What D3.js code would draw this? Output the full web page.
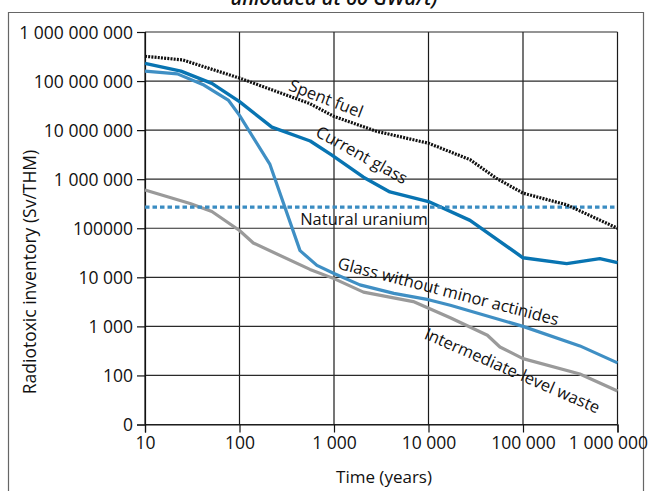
<!DOCTYPE html>
<html><head><meta charset="utf-8">
<script src="https://cdn.jsdelivr.net/npm/d3@7"></script>
<style>body{margin:0;background:#fff}svg{display:block}</style>
</head><body>
<script>
// ---- data ----
const spentT = [10, 25, 100, 550, 1000, 2800, 10000, 27500, 52000, 100000, 290000, 1000000];
const spentV = [3.2e8, 2.7e8, 1.15e8, 3.5e7, 1.9e7, 9.5e6, 5.4e6, 2.5e6, 1.05e6, 5.2e5, 3e5, 1.0e5];

const glassT = [10, 24, 51, 100, 220, 560, 950, 2050, 3900, 10000, 27500, 100000, 290000, 650000, 1000000];
const glassV = [2.3e8, 1.6e8, 9e7, 3.8e7, 1.15e7, 6e6, 3.1e6, 1.1e6, 5.5e5, 3.5e5, 1.45e5, 2.5e4, 1.9e4, 2.4e4, 2.0e4];

const noMAT = [10, 22, 42, 76, 100, 210, 437, 660, 1000, 1880, 4300, 10000, 17000, 100000, 400000, 1000000];
const noMAV = [1.6e8, 1.4e8, 8.3e7, 4.1e7, 2e7, 2e6, 3.5e4, 1.75e4, 1.2e4, 7e3, 4.7e3, 3.5e3, 2.7e3, 1e3, 4e2, 1.8e2];

const ilwT = [10, 30, 51, 100, 140, 557, 1000, 2050, 6900, 17000, 42000, 57000, 100000, 400000, 1000000];
const ilwV = [6e5, 3.2e5, 2.2e5, 9e4, 5e4, 1.45e4, 9.4e3, 5e3, 3.2e3, 1.5e3, 6.6e2, 3.8e2, 2.2e2, 1.07e2, 4.8e1];

const uraniumT = [10, 1000000];
const uraniumV = [2.7e5, 2.7e5];

const xTicks = [10, 100, 1000, 10000, 100000, 1000000];
const xTickLabels = ["10", "100", "1 000", "10 000", "100 000", "1 000 000"];
const yTicks = [10, 100, 1000, 1e4, 1e5, 1e6, 1e7, 1e8, 1e9];
const yTickLabels = ["0", "100", "1 000", "10 000", "100000", "1 000 000", "10 000 000", "100 000 000", "1 000 000 000"];

const title = "unloaded at 60 GWd/t)";
const xTitle = "Time (years)";
const yTitle = "Radiotoxic inventory (Sv/THM)";

// ---- layout ----
const W = 649, H = 491;
const L = 145, R = 617.5, T = 32, B = 424.5;
const font = "'Open Sans', sans-serif";

const svg = d3.select("body").append("svg").attr("width", W).attr("height", H);

// outer frame
svg.append("path").attr("d", `M8.5,${H+2}V12.5H643.5V${H+2}`)
  .attr("fill", "none").attr("stroke", "#666").attr("stroke-width", 1.2);

svg.append("text").attr("x", 334).attr("y", 5).attr("text-anchor", "middle")
  .attr("font-family", font).attr("font-style", "italic").attr("font-weight", 600).attr("font-size", 20)
  .attr("fill", "#111").text(title);

const x = d3.scaleLog().domain([10, 1e6]).range([L, R]);
const y = d3.scaleLog().domain([10, 1e9]).range([B, T]);

// grid
const g = svg.append("g");
g.selectAll("line.v").data(xTicks).join("line")
  .attr("x1", d => x(d)).attr("x2", d => x(d)).attr("y1", T).attr("y2", B)
  .attr("stroke", "#1a1a1a").attr("stroke-width", 1.2);
g.selectAll("line.h").data(yTicks).join("line")
  .attr("x1", L).attr("x2", R).attr("y1", d => y(d)).attr("y2", d => y(d))
  .attr("stroke", "#2a2a2a").attr("stroke-width", 1.2);

// axes
const xAxis = d3.axisBottom(x).tickValues(xTicks).tickFormat((d, i) => xTickLabels[i]).tickSizeOuter(0).tickSize(8).tickPadding(4);
const yAxis = d3.axisLeft(y).tickValues(yTicks).tickFormat((d, i) => yTickLabels[i]).tickSizeOuter(0).tickSize(8).tickPadding(4);
const gx = svg.append("g").attr("transform", `translate(0,${B})`).call(xAxis);
const gy = svg.append("g").attr("transform", `translate(${L},0)`).call(yAxis);
[gx, gy].forEach(a => {
  a.select(".domain").attr("stroke", "#111").attr("stroke-width", 1.2);
  a.selectAll(".tick line").attr("stroke", "#111").attr("stroke-width", 1.2);
  a.selectAll("text").attr("font-family", font).attr("font-size", 17.5).attr("fill", "#111");
});
gy.selectAll("text").attr("dy", "0.36em");
// last x label nudged left so it fits inside the page, as in the reference
gx.selectAll(".tick text").filter(d => d === 1e6).attr("text-anchor", "end").attr("dx", 30);

// series
const line = d3.line().x(d => x(d[0])).y(d => y(d[1]));
const zip = (a, b) => a.map((v, i) => [v, b[i]]);
const series = [
  {t: ilwT, v: ilwV, color: "#9a9a9a", dash: null, w: 3.2},
  {t: noMAT, v: noMAV, color: "#3f8fc4", dash: null, w: 3.2},
  {t: glassT, v: glassV, color: "#0874b2", dash: null, w: 3.4},
  {t: uraniumT, v: uraniumV, color: "#3a8cc2", dash: "4.5,3", w: 3.2},
  {t: spentT, v: spentV, color: "#111", dash: "2,1.2", w: 3.2}
];
series.forEach(s => {
  svg.append("path").datum(zip(s.t, s.v)).attr("d", line)
    .attr("fill", "none").attr("stroke", s.color).attr("stroke-width", s.w)
    .attr("stroke-dasharray", s.dash).attr("stroke-linejoin", "round");
});

// curve labels
const labels = [
  {text: "Spent fuel", x: 324, y: 104, r: 21},
  {text: "Current glass", x: 359, y: 160, r: 29},
  {text: "Natural uranium", x: 364, y: 225, r: 0},
  {text: "Glass without minor actinides", x: 447, y: 297, r: 14.5},
  {text: "Intermediate-level waste", x: 510, y: 376, r: 23.5}
];
labels.forEach(l => {
  svg.append("text").attr("transform", `translate(${l.x},${l.y}) rotate(${l.r})`)
    .attr("text-anchor", "middle").attr("font-family", font).attr("font-size", 16.5)
    .attr("fill", "#111").text(l.text);
});

// axis titles
svg.append("text").attr("x", 384).attr("y", 483).attr("text-anchor", "middle")
  .attr("font-family", font).attr("font-size", 17).attr("fill", "#111").text(xTitle);
svg.append("text").attr("transform", "translate(36,272) rotate(-90)").attr("text-anchor", "middle")
  .attr("font-family", font).attr("font-size", 17.5).attr("fill", "#111").text(yTitle);
</script>
</body></html>
